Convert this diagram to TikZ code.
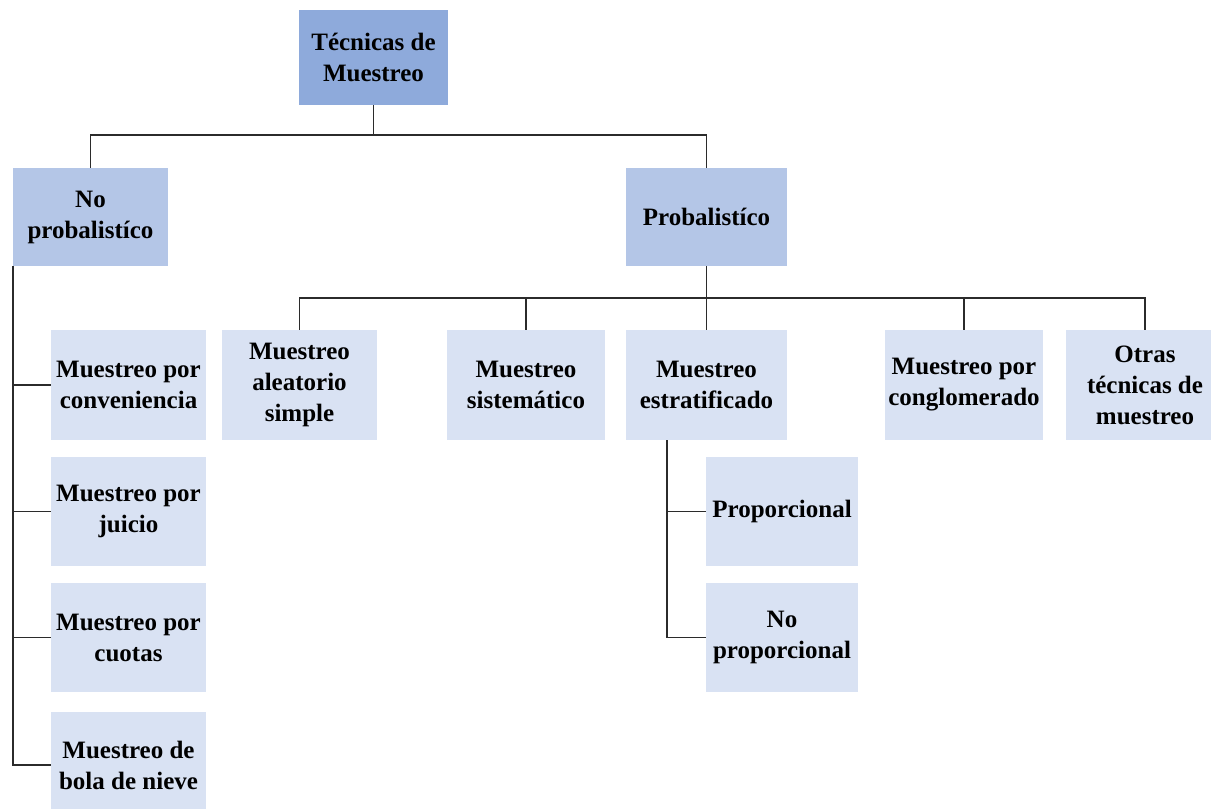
\documentclass[tikz,border=0pt]{standalone}
\usepackage{fontspec}
\setmainfont{Liberation Serif}
\definecolor{topc}{HTML}{8EAADB}
\definecolor{midc}{HTML}{B4C6E7}
\definecolor{lowc}{HTML}{D9E2F3}
\definecolor{linec}{HTML}{2B2B2B}
\begin{document}
\begin{tikzpicture}[x=1pt,y=-1pt,
  box/.style={inner sep=0pt,align=center,font=\fontsize{25}{31}\selectfont\bfseries},
  topbox/.style={box,fill=topc},
  midbox/.style={box,fill=midc},
  lowbox/.style={box,fill=lowc},
  conn/.style={draw=linec,line width=1.6pt}]
\useasboundingbox (0,0) rectangle (1211,809);
\clip (0,0) rectangle (1211,809);
\node[topbox,minimum width=149,minimum height=95] (top) at (373.5,57.5) {Técnicas de\\Muestreo};
\node[midbox,minimum width=155,minimum height=98] (nop) at (90.5,217) {No\\probalistíco};
\node[midbox,minimum width=161,minimum height=98] (pro) at (706.5,217) {Probalistíco};
\node[lowbox,minimum width=155,minimum height=110] (conv) at (128.5,385) {Muestreo por\\conveniencia};
\node[lowbox,minimum width=155,minimum height=109] (juicio) at (128.5,511.5) {Muestreo por\\juicio};
\node[lowbox,minimum width=155,minimum height=109] (cuotas) at (128.5,637.5) {Muestreo por\\cuotas};
\node[lowbox,minimum width=155,minimum height=106] (bola) at (128.5,765) {Muestreo de\\bola de nieve};
\node[lowbox,minimum width=155,minimum height=110] (simple) at (299.5,385) {Muestreo\\aleatorio\\simple};
\node[lowbox,minimum width=158,minimum height=110] (sist) at (526,385) {Muestreo\\sistemático};
\node[lowbox,minimum width=161,minimum height=110] (estr) at (706.5,385) {Muestreo\\estratificado};
\node[lowbox,minimum width=158,minimum height=110] (cong) at (964,385) {Muestreo por\\conglomerado};
\node[lowbox,minimum width=158,minimum height=110] (otras) at (1145,385) {Otras\\técnicas de\\muestreo};
\node[lowbox,minimum width=152,minimum height=109] (prop) at (782,511.5) {Proporcional};
\node[lowbox,minimum width=152,minimum height=109] (noprop) at (782,637.5) {No\\proporcional};
\coordinate (b1) at (373.5,135);
\coordinate (b2) at (706.5,298);
\coordinate (e1) at (667,440);
\coordinate (n1) at (13,266);
\draw[conn] (top.south) -- (b1);
\draw[conn] (nop.north) |- (b1) -| (pro.north);
\draw[conn] (pro.south) -- (b2);
\draw[conn] (simple.north) |- (b2) -| (otras.north);
\draw[conn] (sist.north) |- (b2);
\draw[conn] (estr.north) -- (b2);
\draw[conn] (cong.north) |- (b2);
\draw[conn] (n1) |- (bola.west);
\draw[conn] (n1) |- (conv.west);
\draw[conn] (n1) |- (juicio.west);
\draw[conn] (n1) |- (cuotas.west);
\draw[conn] (e1) |- (noprop.west);
\draw[conn] (e1) |- (prop.west);
\end{tikzpicture}
\end{document}
